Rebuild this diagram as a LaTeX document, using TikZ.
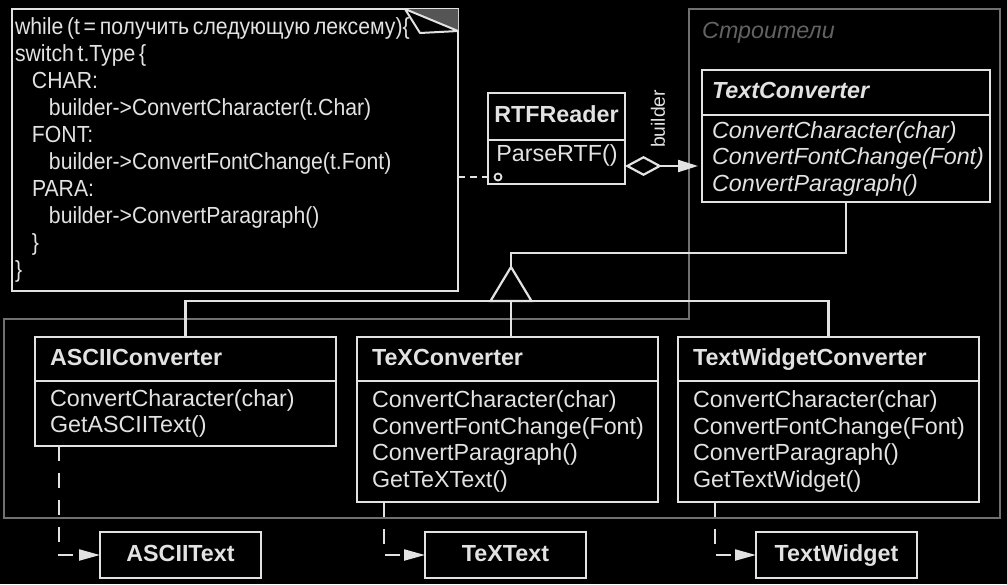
\documentclass[tikz,border=0pt]{standalone}
\usepackage{fontspec}
\setmainfont{Liberation Sans}
\newfontfamily\notefont[FakeStretch=0.91]{Liberation Sans}
\usetikzlibrary{arrows.meta,positioning,calc}
\definecolor{ink}{RGB}{226,226,226}
\definecolor{framegray}{RGB}{112,112,112}
\definecolor{foldgray}{RGB}{85,85,85}
\newcommand\classfont{\fontsize{23.3}{26.5}\selectfont}

\begin{document}
\begin{tikzpicture}[x=1pt, y=-1pt,
    classhead/.style={draw=ink, line width=2.4pt, outer sep=0pt, inner xsep=15pt, inner ysep=0pt, minimum height=44pt, text height=17pt, text depth=5pt, text=ink, font=\classfont\bfseries, align=left, text width=271pt, anchor=north west},
    classbody/.style={draw=ink, line width=2.4pt, outer sep=0pt, inner xsep=15pt, inner ysep=0pt, text=ink, font=\classfont, align=left, text width=271pt, below=0pt of #1},
    product/.style={draw=ink, line width=2.4pt, outer sep=0pt, minimum width=161pt, minimum height=46pt, text height=17pt, text depth=5pt, text=ink, font=\classfont\bfseries, anchor=north west},
    notebox/.style={draw=ink, line width=2.2pt, outer sep=0pt, anchor=north west, minimum width=446pt, minimum height=282pt, text width=440pt, inner xsep=3pt, align=left, text=ink, font=\notefont\fontsize{23.3}{26.9}\selectfont},
    inh/.style={draw=ink, line width=2.2pt},
    dep/.style={draw=ink, line width=2.2pt, dash pattern=on 15pt off 12pt, -{Triangle[length=21pt, width=11pt]}}
]
    \fill[black] (0,0) rectangle (1007,584);
    \useasboundingbox (0,0) rectangle (1007,584);

    % builders frame
    \draw[framegray, line width=2pt] (689,9) -- (1000,9) -- (1000,518) -- (4,518) -- (4,319) -- (689,319) -- cycle;
    \node[anchor=west, inner sep=0pt, text=framegray!110, font=\classfont\itshape] (builders) at (702,33) {Строители};

    % director and its note
    \node[notebox] (note) at (12,9) {\spaceskip=0.16em\relax
while (t = получить следующую лексему)\{\\
switch t.Type \{\\
\hspace*{17pt}CHAR:\\
\hspace*{34pt}builder->ConvertCharacter(t.Char)\\
\hspace*{17pt}FONT:\\
\hspace*{34pt}builder->ConvertFontChange(t.Font)\\
\hspace*{17pt}PARA:\\
\hspace*{34pt}builder->ConvertParagraph()\\
\hspace*{17pt}\}\\
\}};
    \fill[foldgray] ($(note.north east)+(-53,0)$) -- (note.north east) -- ($(note.north east)+(0,22)$) -- cycle;
    \filldraw[draw=ink, fill=black, line width=2pt, line join=round] ($(note.north east)+(-53,0)$) -- ($(note.north east)+(-38,24)$) -- ($(note.north east)+(0,22)$) -- cycle;

    \node[classhead, text width=137pt, inner xsep=0pt, minimum height=47pt, align=center] (rtfhead) at (488,93) {RTFReader};
    \node[classbody=rtfhead, text width=137pt, inner xsep=0pt, minimum height=44pt] (rtfbody) {};
    \node[inner sep=0pt, text=ink, font=\classfont] (parse) at (557,155) {ParseRTF()};
    \node[circle, draw=ink, line width=1.8pt, inner sep=0pt, minimum size=7pt] (hook) at (498,177) {};
    \draw[ink, line width=2pt, dash pattern=on 7pt off 5pt] (note.east |- hook) -- (hook.west);

    % abstract builder
    \node[classhead, text width=268pt, inner xsep=10pt, minimum height=45pt, font=\classfont\bfseries\itshape] (tchead) at (702,70) {TextConverter};
    \node[classbody=tchead, text width=268pt, inner xsep=10pt, minimum height=87pt, font=\classfont\itshape] (tcbody) {ConvertCharacter(char)\\ConvertFontChange(Font)\\ConvertParagraph()};

    \coordinate (aggr) at ([yshift=-4pt]rtfbody.east);
    \draw[ink, line width=2.2pt, {Diamond[open, length=37pt, width=20pt]}-{Triangle[length=20pt, width=12pt]}, shorten >=4pt] (aggr) -- (aggr -| tcbody.west);
    \node[rotate=90, inner sep=0pt, text=ink, font=\fontsize{19.3}{22}\selectfont] (builderlbl) at (658,119) {builder};

    % concrete builders
    \node[classhead] (asciihead) at (35,337) {ASCIIConverter};
    \node[classbody=asciihead, minimum height=65pt] (asciibody) {ConvertCharacter(char)\\GetASCIIText()};
    \node[classhead] (texhead) at (357,337) {TeXConverter};
    \node[classbody=texhead, minimum height=121pt] (texbody) {ConvertCharacter(char)\\ConvertFontChange(Font)\\ConvertParagraph()\\GetTeXText()};
    \node[classhead] (twhead) at (678,337) {TextWidgetConverter};
    \node[classbody=twhead, minimum height=121pt] (twbody) {ConvertCharacter(char)\\ConvertFontChange(Font)\\ConvertParagraph()\\GetTextWidget()};

    % inheritance
    \coordinate (elbow) at (511,253);
    \coordinate (apex) at (511,267);
    \coordinate (bar) at (511,301);
    \draw[inh] (tcbody.south) |- (elbow) -- (apex);
    \draw[inh, line join=miter] (apex) -- ++(-20.5,34) -- ++(41,0) -- cycle;
    \draw[inh] (asciihead.north) -- (asciihead.north |- bar) -- (twhead.north |- bar) -- (twhead.north);
    \draw[inh] (bar) -- (bar |- texhead.north);

    % products
    \node[product] (asciitext) at (100,532) {ASCIIText};
    \node[product] (textext) at (425,532) {TeXText};
    \node[product] (twtext) at (756,532) {TextWidget};

    \draw[dep] ([xshift=24pt]asciibody.south west) |- (asciitext.west);
    \draw[dep] ([xshift=27pt]texbody.south west) |- (textext.west);
    \draw[dep] ([xshift=37pt]twbody.south west) |- (twtext.west);
\end{tikzpicture}
\end{document}
